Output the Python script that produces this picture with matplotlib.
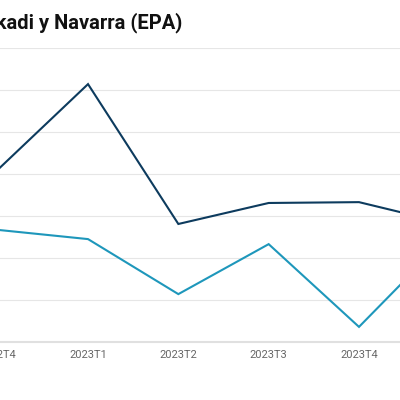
import matplotlib.pyplot as plt

# trimestres EPA (la imagen está recortada a ambos lados)
trimestres = ['2022T4', '2023T1', '2023T2', '2023T3', '2023T4', '2024T1']
euskadi = [9.1, 11.14, 7.81, 8.31, 8.33, 7.81]
navarra = [7.67, 7.45, 6.14, 7.33, 5.36, 7.55]
y_ticks = [5, 6, 7, 8, 9, 10, 11, 12]

plt.rcParams['font.family'] = ['Roboto', 'DejaVu Sans']

fig = plt.figure(figsize=(4, 4), dpi=100)
# eje más ancho que la figura para reproducir el recorte
ax = fig.add_axes([-0.125, 0.145, 1.125, 0.735])

x = list(range(len(trimestres)))
ax.plot(x, euskadi, color='#0d3b5e', lw=1.5, solid_joinstyle='miter')
ax.plot(x, navarra, color='#1e97bb', lw=1.5, solid_joinstyle='miter')

ax.set_xticks(x)
ax.set_xticklabels(trimestres)
ax.set_yticks(y_ticks)
ax.set_yticklabels([])
ax.set_xlim(-0.528, 4.454)
ax.set_ylim(5, 12)
ax.tick_params(axis='x', length=0, pad=5.5, labelsize=8, labelcolor='#666666')
ax.tick_params(axis='y', length=0)
ax.grid(axis='y', color='#e6e6e6', lw=0.8)
ax.set_axisbelow(True)
for s in ['top', 'right', 'left']:
    ax.spines[s].set_visible(False)
ax.spines['bottom'].set_color('#e0e0e0')
ax.spines['bottom'].set_linewidth(1.5)

fig.text(182 / 400, 1 - 28 / 400, 'Tasa de paro en Euskadi y Navarra (EPA)',
         ha='right', va='baseline', fontsize=14.5, fontweight='bold', color='#111111')

fig.savefig('out.png', dpi=100)
